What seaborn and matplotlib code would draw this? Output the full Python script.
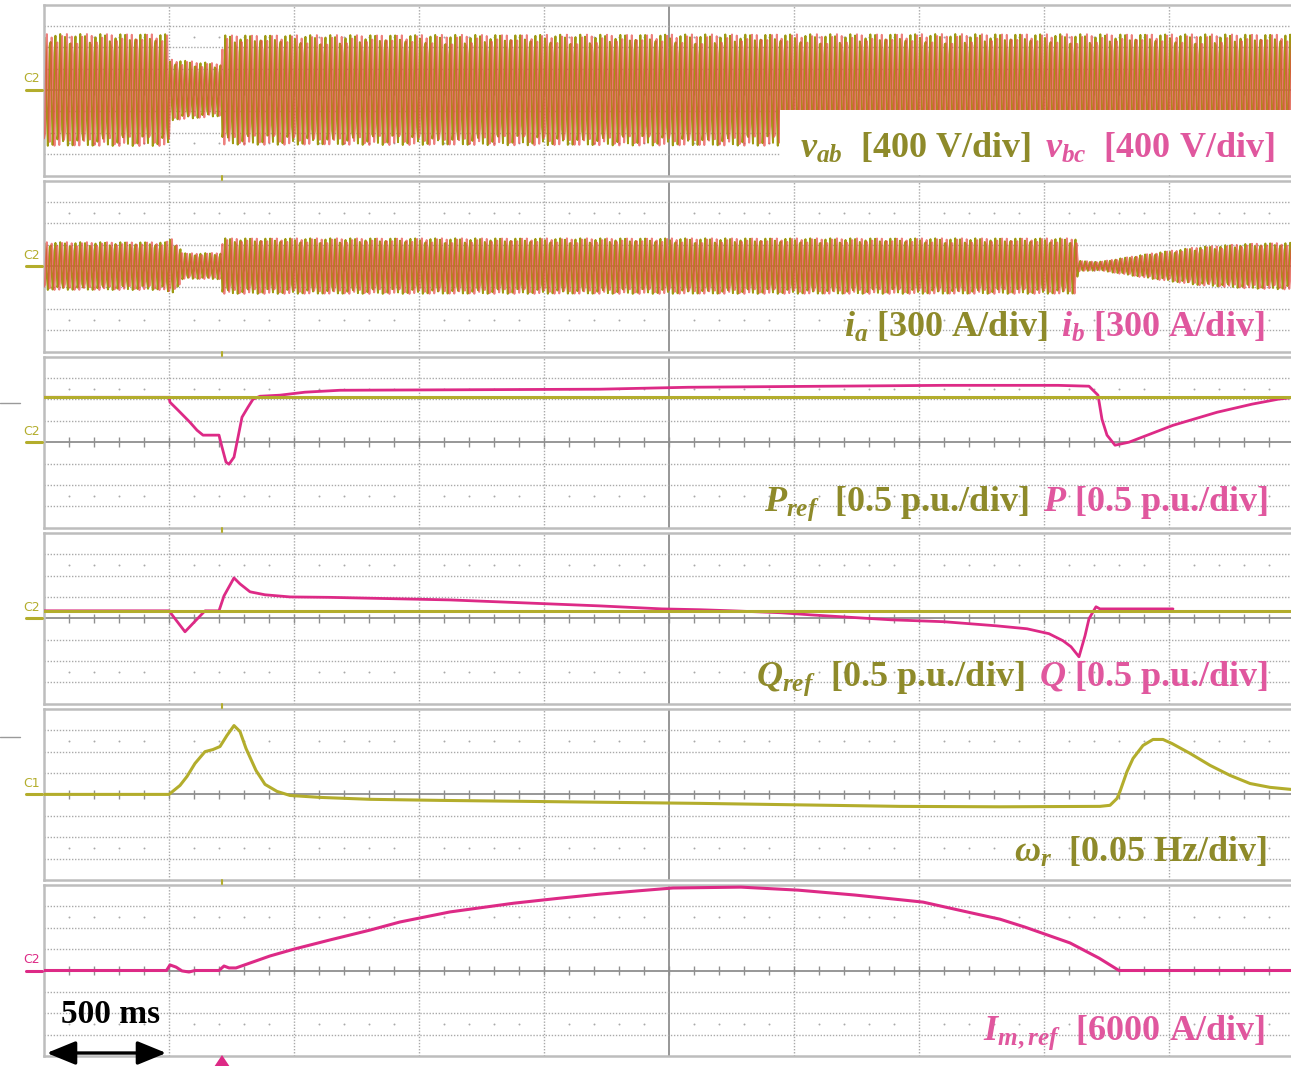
import numpy as np
import matplotlib.pyplot as plt
import seaborn as sns
from matplotlib.patches import Rectangle, Polygon, FancyArrowPatch
from matplotlib.lines import Line2D

# DADOS (tempo em s: 10 div x 500 ms; amplitudes em divisoes do osciloscopio)
# painel 1: envoltoria de v_ab / v_bc
v_env_t = [0.0, 0.5, 0.502, 0.712, 0.714, 3.5, 5.0]
v_env = [2.62, 2.62, 1.43, 1.22, 2.56, 2.62, 2.6]

# painel 2: envoltoria de i_a / i_b
i_env_t = [0.0, 0.49, 0.5, 0.52, 0.56, 0.6, 0.71, 0.712, 4.13, 4.135, 4.22, 4.42, 4.62, 4.82, 5.0]
i_env = [1.12, 1.12, 1.35, 1.2, 0.6, 0.6, 0.62, 1.3, 1.3, 0.25, 0.2, 0.58, 0.9, 1.05, 1.1]

f_rede = 50     # Hz
fs = 262        # taxa de amostragem da tela (gera o padrao listrado)

# painel 3: P_ref e P
p_ref_t = [0.0, 5.0]
p_ref = [2.1, 2.1]
p_t = [0.0, 0.5, 0.504, 0.536, 0.552, 0.584, 0.612, 0.636, 0.70, 0.712, 0.728, 0.74, 0.76,
       0.776, 0.792, 0.816, 0.836, 0.864, 0.944, 1.044, 1.184, 2.224, 2.576, 3.596, 4.056,
       4.18, 4.216, 4.232, 4.252, 4.284, 4.34, 4.516, 4.692, 4.832, 4.936, 5.0]
p = [2.1, 2.1, 1.87, 1.50, 1.31, 0.93, 0.56, 0.33, 0.33, -0.23, -0.93, -1.03, -0.70,
     0.23, 1.17, 1.64, 2.01, 2.15, 2.20, 2.34, 2.43, 2.48, 2.57, 2.66, 2.66,
     2.62, 2.20, 1.07, 0.33, -0.14, 0.0, 0.79, 1.40, 1.78, 2.01, 2.1]

# painel 4: Q_ref e Q
q_ref_t = [0.0, 5.0]
q_ref = [0.35, 0.35]
q_t = [0.0, 0.5, 0.564, 0.644, 0.70, 0.72, 0.76, 0.784, 0.824, 0.884, 0.984, 1.144, 1.424,
       1.624, 2.224, 2.472, 2.628, 2.752, 2.948, 3.068, 3.192, 3.388, 3.60, 3.808, 3.932,
       4.02, 4.076, 4.108, 4.14, 4.164, 4.18, 4.208, 4.224, 4.516]
q = [0.35, 0.35, -0.63, 0.35, 0.35, 1.05, 1.89, 1.61, 1.24, 1.10, 1.00, 0.98, 0.91,
     0.86, 0.58, 0.44, 0.40, 0.35, 0.26, 0.16, 0.07, -0.07, -0.16, -0.35, -0.49,
     -0.72, -1.05, -1.33, -1.80, -0.82, -0.02, 0.54, 0.44, 0.44]

# painel 5: omega_r
w_t = [0.0, 0.5, 0.544, 0.572, 0.604, 0.644, 0.676, 0.704, 0.732, 0.76, 0.784, 0.808, 0.848,
       0.884, 0.932, 0.984, 1.104, 1.304, 1.584, 2.624, 3.424, 3.824, 4.224, 4.264, 4.292,
       4.304, 4.332, 4.356, 4.396, 4.436, 4.476, 4.512, 4.584, 4.664, 4.744, 4.824, 4.904, 5.0]
w = [0.0, 0.0, 0.42, 0.84, 1.45, 2.0, 2.1, 2.24, 2.76, 3.22, 2.94, 2.15, 1.12,
     0.47, 0.14, -0.05, -0.14, -0.23, -0.28, -0.42, -0.56, -0.58, -0.56, -0.51, -0.19,
     0.14, 1.07, 1.68, 2.29, 2.57, 2.57, 2.38, 1.92, 1.36, 0.89, 0.51, 0.33, 0.22]

# painel 6: I_m,ref
im_t = [0.0, 0.49, 0.504, 0.528, 0.552, 0.58, 0.604, 0.70, 0.72, 0.74, 0.768, 0.824, 0.904,
        1.0, 1.144, 1.304, 1.424, 1.624, 1.88, 2.06, 2.22, 2.38, 2.516, 2.788, 3.016, 3.244,
        3.516, 3.696, 3.824, 3.924, 4.104, 4.22, 4.30, 5.0]
im = [0.0, 0.0, 0.26, 0.16, -0.02, -0.07, 0.0, 0.0, 0.21, 0.12, 0.12, 0.35, 0.68,
      1.0, 1.43, 1.89, 2.27, 2.74, 3.15, 3.38, 3.57, 3.73, 3.86, 3.9, 3.76, 3.53,
      3.2, 2.73, 2.4, 2.03, 1.29, 0.58, 0.0, 0.0]

# CORES
OLIVA = '#b3ad2c'
ROSA = '#dd2a86'
OLIVA_ONDA = '#9e9a12'
ROSA_ONDA = '#e64c48'
OLIVA_TXT = '#8e8a2a'
ROSA_TXT = '#e0579e'
BORDA = '#bdbdbd'
GRADE = '#a9a9a9'
EIXO = '#8f8f8f'

W, H = 1291, 1066

sns.set_style("white")
plt.rcParams['font.family'] = ['Liberation Serif', 'DejaVu Serif']
plt.rcParams['mathtext.fontset'] = 'custom'
plt.rcParams['mathtext.it'] = 'Liberation Serif:italic:bold'
plt.rcParams['mathtext.rm'] = 'Liberation Serif:bold'
plt.rcParams['mathtext.bf'] = 'Liberation Serif:bold'

fig = plt.figure(figsize=(W / 100, H / 100), dpi=100)


def fx(x):
    return x / W


def fy(y):
    return 1 - y / H


def grade_osc(ax):
    ax.set_xlim(0, 5)
    ax.set_ylim(-4, 4)
    ax.set_xticks([])
    ax.set_yticks([])
    for s in ax.spines.values():
        s.set_color(BORDA)
        s.set_linewidth(1.8)
    for xv in np.arange(0.5, 5.0, 0.5):
        if abs(xv - 2.5) < 1e-6:
            ax.axvline(xv, color=EIXO, lw=1.3, zorder=1)
        else:
            ax.axvline(xv, color=GRADE, lw=1.0, ls=(0, (1, 1.2)), zorder=1)
    for yv in [-3, -2, -1, 1, 2, 3]:
        ax.axhline(yv, color=GRADE, lw=1.0, ls=(0, (1, 1.2)), zorder=1)
    ax.axhline(0, color=EIXO, lw=1.3, zorder=1)
    marcas = np.arange(0.1, 5.0, 0.1)
    ax.vlines(marcas, -0.22, 0.22, color=EIXO, lw=1.0, zorder=1)
    pontos = [m for m in marcas if round(m * 10) % 5 != 0]
    ax.scatter(pontos, [2.5] * len(pontos), s=2, color=GRADE, zorder=1, linewidths=0)
    ax.scatter(pontos, [-2.5] * len(pontos), s=2, color=GRADE, zorder=1, linewidths=0)


axes = []
for i in range(6):
    topo = 4.5 + 176.1 * i
    ax = fig.add_axes([fx(44), fy(topo + 171), 1250 / W, 171 / H])
    grade_osc(ax)
    axes.append(ax)

# formas de onda (portadora de 50 Hz modulada pela envoltoria lida)
t = np.arange(0, 5, 1 / fs)
env_v = np.interp(t, v_env_t, v_env)
env_i = np.interp(t, i_env_t, i_env)
fase = 2 * np.pi * f_rede * t
for ax, env in [(axes[0], env_v), (axes[1], env_i)]:
    sns.lineplot(x=t, y=env * np.sin(fase), ax=ax, color=OLIVA_ONDA, lw=1.4,
                 estimator=None, sort=False, zorder=2)
    sns.lineplot(x=t, y=env * np.sin(fase - 2 * np.pi / 3), ax=ax, color=ROSA_ONDA, lw=1.4,
                 alpha=0.7, estimator=None, sort=False, zorder=3)

# P e Q
sns.lineplot(x=p_t, y=p, ax=axes[2], color=ROSA, lw=2.0, estimator=None, sort=False, zorder=3)
sns.lineplot(x=p_ref_t, y=p_ref, ax=axes[2], color=OLIVA, lw=2.2, estimator=None, zorder=4)
sns.lineplot(x=q_t, y=q, ax=axes[3], color=ROSA, lw=2.0, estimator=None, sort=False, zorder=3)
sns.lineplot(x=q_ref_t, y=q_ref, ax=axes[3], color=OLIVA, lw=2.2, estimator=None, zorder=4)
# omega_r e I_m,ref
sns.lineplot(x=w_t, y=w, ax=axes[4], color=OLIVA, lw=2.2, estimator=None, sort=False, zorder=3)
sns.lineplot(x=im_t, y=im, ax=axes[5], color=ROSA, lw=2.2, estimator=None, sort=False, zorder=3)

for ax in axes:
    ax.set_xlim(0, 5)
    ax.set_ylim(-4, 4)
    ax.set_xlabel('')
    ax.set_ylabel('')

# marcadores C1/C2
canais = ['C2', 'C2', 'C2', 'C2', 'C1', 'C2']
cores_canal = [OLIVA, OLIVA, OLIVA, OLIVA, OLIVA, ROSA]
for i, (c, cor) in enumerate(zip(canais, cores_canal)):
    centro = 4.5 + 176.1 * i + 85.5
    fig.text(fx(32), fy(centro - 11), c, color=cor, fontsize=9, family='DejaVu Sans',
             ha='center', va='center')
    fig.add_artist(Line2D([fx(26), fx(42)], [fy(centro), fy(centro)], color=cor, lw=2.2))

# marca de disparo entre paineis
for i in range(5):
    base = 4.5 + 176.1 * i + 171
    fig.add_artist(Line2D([fx(222), fx(222)], [fy(base), fy(base + 4)], color=OLIVA, lw=1.5))

# caixa branca do painel 1
fig.add_artist(Rectangle((fx(780), fy(175)), fx(1291) - fx(780), fy(110) - fy(175),
                         transform=fig.transFigure, facecolor='white', edgecolor='none', zorder=2))

renderer = fig.canvas.get_renderer()


def rotulo(direita, base, partes, tam=26):
    x = direita
    for s, cor in reversed(partes):
        txt = fig.text(fx(x), fy(base), s, color=cor, ha='right', va='baseline',
                       fontsize=tam, fontweight='bold', zorder=4)
        bb = txt.get_window_extent(renderer)
        x = bb.x0 - 14


rotulo(1275, 158, [(r'$v_{ab}$  [400 V/div]', OLIVA_TXT), (r'$v_{bc}$  [400 V/div]', ROSA_TXT)])
rotulo(1265, 337, [(r'$i_{a}$ [300 A/div]', OLIVA_TXT), (r'$i_{b}$ [300 A/div]', ROSA_TXT)])
rotulo(1268, 511, [(r'$P_{ref}$  [0.5 p.u./div]', OLIVA_TXT), (r'$P$ [0.5 p.u./div]', ROSA_TXT)])
rotulo(1268, 686, [(r'$Q_{ref}$  [0.5 p.u./div]', OLIVA_TXT), (r'$Q$ [0.5 p.u./div]', ROSA_TXT)])
rotulo(1267, 862, [(r'$\omega_{r}$  [0.05 Hz/div]', OLIVA_TXT)])
rotulo(1265, 1040, [(r'$I_{m,ref}$  [6000 A/div]', ROSA_TXT)])

# escala de tempo
fig.text(fx(61), fy(1023), '500 ms', color='black', fontsize=24, fontweight='bold',
         ha='left', va='baseline')
fig.add_artist(FancyArrowPatch((fx(44), fy(1053)), (fx(169), fy(1053)), transform=fig.transFigure,
                               arrowstyle='<|-|>,head_length=1.1,head_width=0.45',
                               mutation_scale=16, lw=2.4, color='black'))
fig.add_artist(Polygon([(fx(214), fy(1067)), (fx(230), fy(1067)), (fx(222), fy(1055))],
                       closed=True, transform=fig.transFigure, facecolor=ROSA, edgecolor='none'))

# tracos cinza na margem esquerda
for yv in [403, 737]:
    fig.add_artist(Line2D([0, fx(20)], [fy(yv), fy(yv)], color='#9a9a9a', lw=1.0))

fig.savefig('out.png', dpi=100)
